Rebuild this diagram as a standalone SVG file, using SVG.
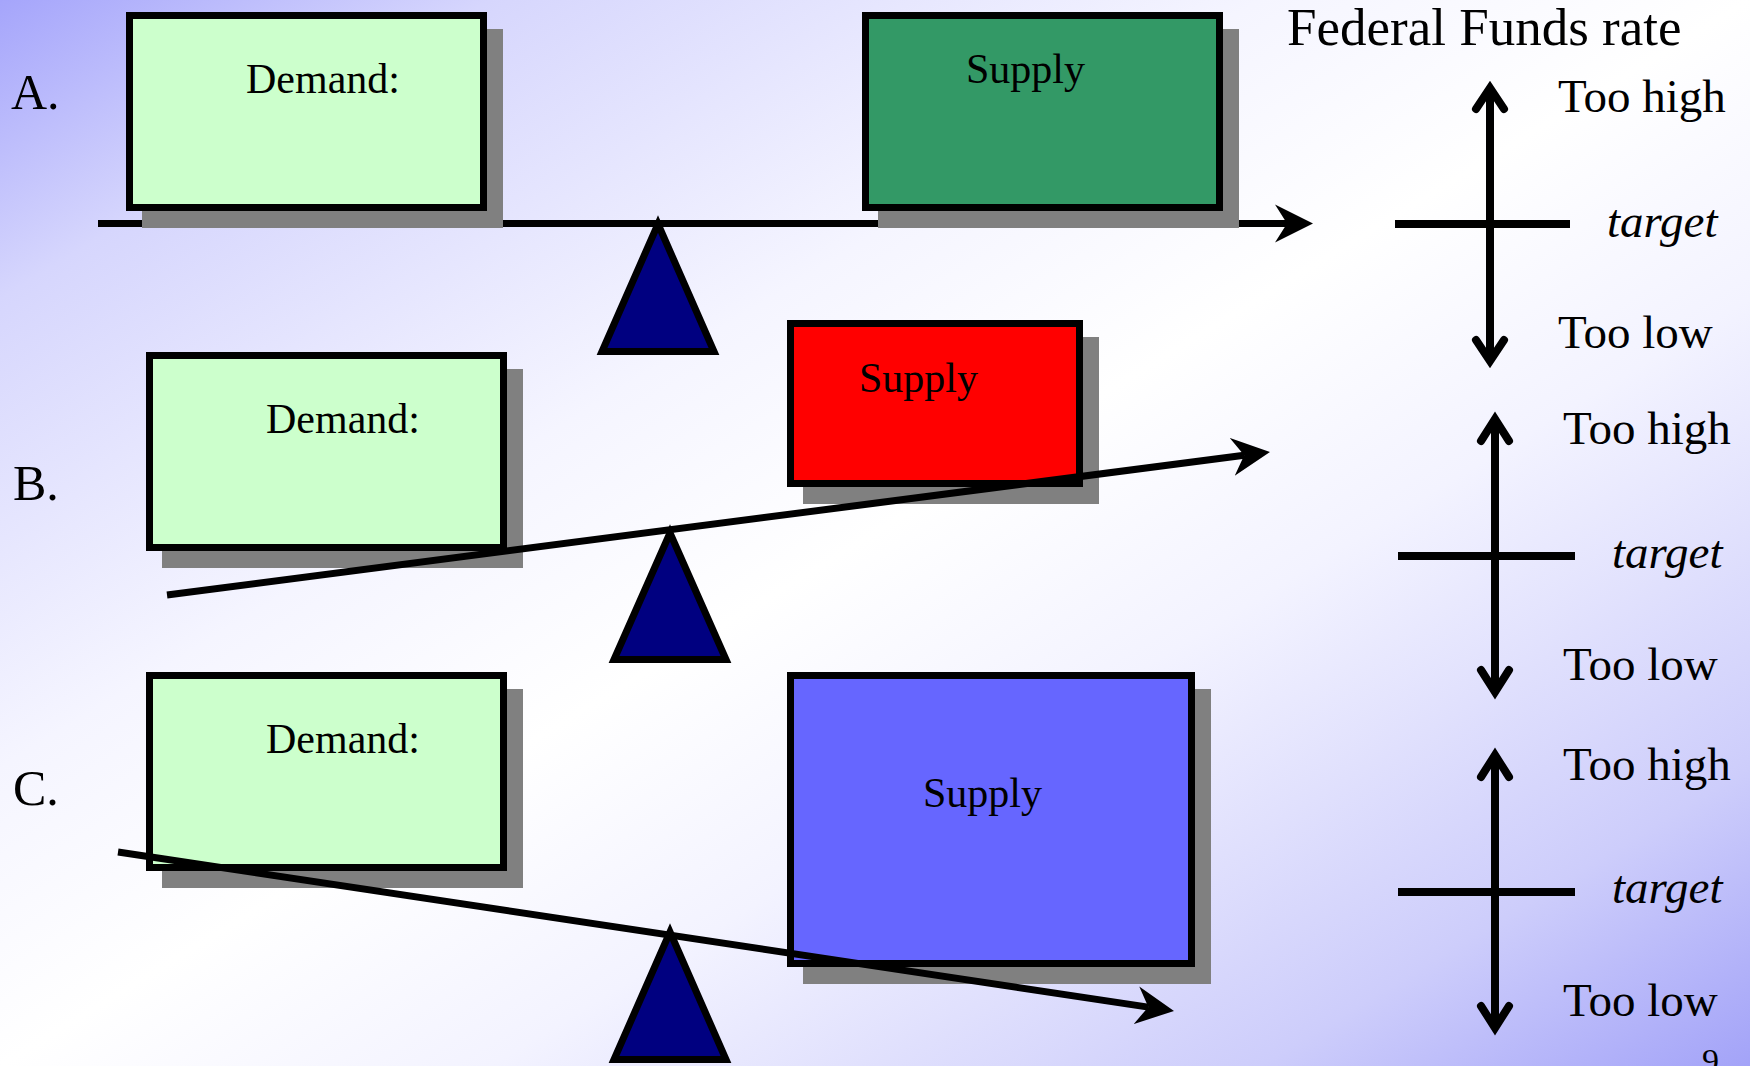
<svg xmlns="http://www.w3.org/2000/svg" width="1750" height="1066" viewBox="0 0 1750 1066">
<defs>
<linearGradient id="bg" x1="0" y1="0" x2="1" y2="1">
<stop offset="0" stop-color="#a5a5fb"/>
<stop offset="0.14" stop-color="#d6d6fd"/>
<stop offset="0.36" stop-color="#f5f5ff"/>
<stop offset="0.5" stop-color="#ffffff"/>
<stop offset="0.64" stop-color="#f3f3ff"/>
<stop offset="0.86" stop-color="#cdcdfb"/>
<stop offset="1" stop-color="#a3a3f8"/>
</linearGradient>
<marker id="ah" markerUnits="userSpaceOnUse" markerWidth="40" markerHeight="40" viewBox="0 0 40 40" refX="12" refY="20" orient="auto">
<path d="M38,20 L0,1 L12,20 L0,39 Z" fill="#000"/>
</marker>
</defs>
<style>
.shadow{fill:#808080}
.box{stroke:#000;stroke-width:7}
.dem{fill:#ccffcc}
.lbl{font-family:"Liberation Serif","Times New Roman",serif;font-size:42px;fill:#000}
.row{font-family:"Liberation Serif","Times New Roman",serif;font-size:50px;fill:#000}
.rt{font-family:"Liberation Serif","Times New Roman",serif;font-size:47px;fill:#000}
.it{font-style:italic}
.beam{stroke:#000;stroke-width:7;fill:none}
.fulcrum{fill:#000080;stroke:#000;stroke-width:7;stroke-linejoin:miter}
.ax{stroke:#000;stroke-width:8;fill:none}
.chev{stroke:#000;stroke-width:8;fill:none;stroke-linecap:round;stroke-linejoin:miter}
</style>
<rect x="0" y="0" width="1750" height="1066" fill="url(#bg)"/>

<g id="beam-a">
<line class="beam" x1="98" y1="223.5" x2="1287" y2="223.5" marker-end="url(#ah)"/>
</g>

<g id="labels">
<text class="row" x="11" y="109">A.</text>
<text class="row" x="13" y="500">B.</text>
<text class="row" x="13" y="805">C.</text>
<text class="rt" x="1287" y="45" style="font-size:53px">Federal Funds rate</text>
<text x="1702" y="1072" style="font-family:'Liberation Serif',serif;font-size:34px">9</text>
</g>

<g id="fulcrum-a"><path class="fulcrum" d="M658,224 L714,351.5 L602,351.5 Z"/></g>
<g id="fulcrum-b"><path class="fulcrum" d="M670,533 L726,659.5 L614,659.5 Z"/></g>
<g id="fulcrum-c"><path class="fulcrum" d="M670,932 L726,1059.5 L614,1059.5 Z"/></g>

<g id="demand-a">
<rect class="shadow" x="142" y="29" width="361" height="199"/>
<rect class="box dem" x="129.5" y="15.5" width="354" height="192"/>
<text class="lbl" x="246" y="93">Demand:</text>
</g>
<g id="supply-a">
<rect class="shadow" x="878" y="29" width="361" height="199"/>
<rect class="box" fill="#339966" x="865.5" y="15.5" width="354" height="192"/>
<text class="lbl" x="966" y="83">Supply</text>
</g>

<g id="demand-b">
<rect class="shadow" x="162" y="369" width="361" height="199"/>
<rect class="box dem" x="149.5" y="355.5" width="354" height="192"/>
<text class="lbl" x="266" y="433">Demand:</text>
</g>
<g id="supply-b">
<rect class="shadow" x="803" y="337" width="296" height="167"/>
<rect class="box" fill="#ff0000" x="790.5" y="323.5" width="289" height="160"/>
<text class="lbl" x="859" y="392">Supply</text>
</g>

<g id="demand-c">
<rect class="shadow" x="162" y="689" width="361" height="199"/>
<rect class="box dem" x="149.5" y="675.5" width="354" height="192"/>
<text class="lbl" x="266" y="753">Demand:</text>
</g>
<g id="supply-c">
<rect class="shadow" x="803" y="689" width="408" height="295"/>
<rect class="box" fill="#6666ff" x="790.5" y="675.5" width="401" height="288"/>
<text class="lbl" x="923" y="807">Supply</text>
</g>

<g id="connectors">
<line class="beam" x1="167" y1="595" x2="1244.2" y2="455.3" marker-end="url(#ah)"/>
<line class="beam" x1="118" y1="852" x2="1148.3" y2="1007.1" marker-end="url(#ah)"/>
</g>

<g id="rate-a">
<line class="ax" x1="1490" y1="90" x2="1490" y2="359"/>
<path class="chev" d="M1476,109 L1490,88 L1504,109"/>
<path class="chev" d="M1476,340 L1490,361 L1504,340"/>
<line class="ax" x1="1395" y1="224" x2="1570" y2="224"/>
<text class="rt" x="1558" y="112">Too high</text>
<text class="rt it" x="1607" y="237">target</text>
<text class="rt" x="1558" y="348">Too low</text>
</g>
<g id="rate-b">
<line class="ax" x1="1495" y1="421" x2="1495" y2="690"/>
<path class="chev" d="M1481,441 L1495,419 L1509,441"/>
<path class="chev" d="M1481,670 L1495,692 L1509,670"/>
<line class="ax" x1="1398" y1="556" x2="1575" y2="556"/>
<text class="rt" x="1563" y="444">Too high</text>
<text class="rt it" x="1612" y="568">target</text>
<text class="rt" x="1563" y="680">Too low</text>
</g>
<g id="rate-c">
<line class="ax" x1="1495" y1="757" x2="1495" y2="1026"/>
<path class="chev" d="M1481,777 L1495,755 L1509,777"/>
<path class="chev" d="M1481,1006 L1495,1028 L1509,1006"/>
<line class="ax" x1="1398" y1="892" x2="1575" y2="892"/>
<text class="rt" x="1563" y="780">Too high</text>
<text class="rt it" x="1612" y="903">target</text>
<text class="rt" x="1563" y="1016">Too low</text>
</g>
</svg>
